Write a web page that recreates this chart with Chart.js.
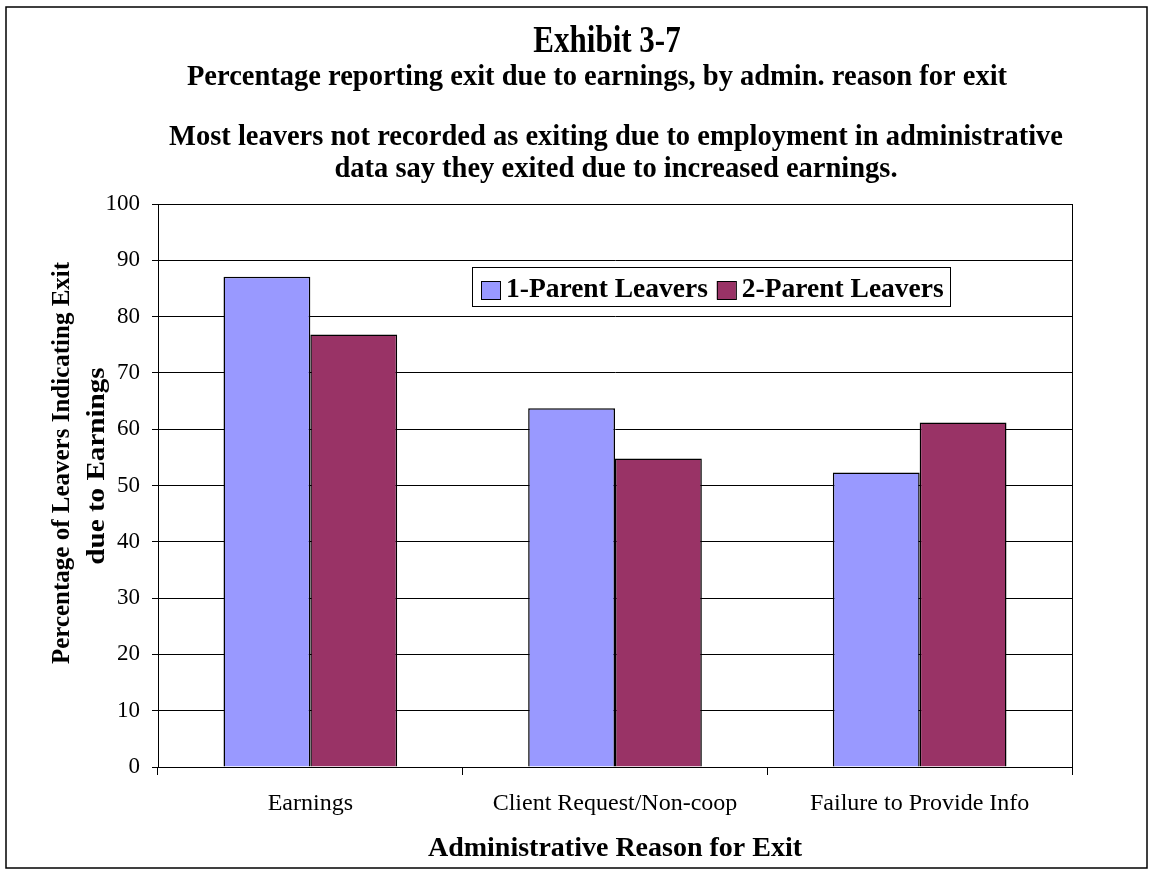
<!DOCTYPE html>
<html><head><meta charset="utf-8">
<script src="https://cdn.jsdelivr.net/npm/chart.js@4"></script>
<style>html,body{margin:0;padding:0;background:#fff}#wrap{width:1153px;height:871px;position:relative}</style>
</head><body><div id="wrap"><canvas id="c" width="1153" height="871"></canvas></div>
<script>
const categories = ['Earnings', 'Client Request/Non-coop', 'Failure to Provide Info'];
const oneParent = [87.1, 63.7, 52.3];
const twoParent = [76.8, 54.8, 61.2];
const seriesNames = ['1-Parent Leavers', '2-Parent Leavers'];
const titleLines = ['Exhibit 3-7', 'Percentage reporting exit due to earnings, by admin. reason for exit', 'Most leavers not recorded as exiting due to employment in administrative', 'data say they exited due to increased earnings.'];
const yTitle = ['Percentage of Leavers Indicating Exit', 'due to Earnings'];
const xTitle = 'Administrative Reason for Exit';

const FONT = "'Liberation Serif', 'Times New Roman', serif";

const framePlugin = {
  id: 'frame',
  beforeDraw(chart) {
    const ctx = chart.ctx;
    ctx.save();
    ctx.fillStyle = '#fff';
    ctx.fillRect(0, 0, chart.width, chart.height);
    ctx.strokeStyle = '#000';
    ctx.lineWidth = 1.5;
    ctx.strokeRect(6, 7, 1141, 861);
    // titles
    ctx.fillStyle = '#000';
    ctx.textAlign = 'center';
    ctx.textBaseline = 'alphabetic';
    ctx.save();
    ctx.translate(607, 52);
    ctx.scale(1, 1.2);
    ctx.font = 'bold 31px ' + FONT;
    ctx.fillText(titleLines[0], 0, 0);
    ctx.restore();
    ctx.font = 'bold 28.5px ' + FONT;
    ctx.fillText(titleLines[1], 597, 85);
    ctx.fillText(titleLines[2], 616, 145);
    ctx.fillText(titleLines[3], 616, 177);
    // y axis title (two rotated lines)
    ctx.textBaseline = 'middle';
    ctx.save();
    ctx.font = 'bold 25px ' + FONT;
    ctx.translate(63, 463);
    ctx.rotate(-Math.PI / 2);
    ctx.fillText(yTitle[0], 0, 0);
    ctx.restore();
    ctx.save();
    ctx.font = 'bold 26px ' + FONT;
    ctx.translate(97, 466);
    ctx.rotate(-Math.PI / 2);
    ctx.scale(1.12, 1);
    ctx.fillText(yTitle[1], 0, 0);
    ctx.restore();
    ctx.restore();
  },
  afterDatasetsDraw(chart) {
    const ctx = chart.ctx, a = chart.chartArea;
    ctx.save();
    ctx.strokeStyle = '#000';
    ctx.lineWidth = 1;
    ctx.strokeRect(Math.round(a.left) + 0.5, Math.round(a.top) + 0.5, Math.round(a.right - a.left), Math.round(a.bottom - a.top));
    // legend inside plot
    const x0 = 472, y0 = 267, w = 478, h = 39;
    ctx.fillStyle = '#fff';
    ctx.fillRect(x0, y0, w, h);
    ctx.strokeRect(x0 + 0.5, y0 + 0.5, w, h);
    ctx.font = 'bold 27.5px ' + FONT;
    ctx.textBaseline = 'alphabetic';
    ctx.textAlign = 'left';
    let x = x0 + 9;
    chart.data.datasets.forEach(ds => {
      ctx.fillStyle = ds.backgroundColor;
      ctx.fillRect(x, y0 + 14, 19, 18);
      ctx.strokeStyle = '#000';
      ctx.strokeRect(x + 0.5, y0 + 14.5, 19, 18);
      ctx.fillStyle = '#000';
      ctx.fillText(ds.label, x + 25, y0 + 30);
      x += 25 + ctx.measureText(ds.label).width + 9;
    });
    ctx.restore();
  }
};

new Chart(document.getElementById('c'), {
  type: 'bar',
  data: {
    labels: categories,
    datasets: [
      { label: seriesNames[0], data: oneParent, backgroundColor: '#9999FF', borderColor: '#000', borderWidth: 1.5 },
      { label: seriesNames[1], data: twoParent, backgroundColor: '#993366', borderColor: '#000', borderWidth: 1.5 }
    ]
  },
  options: {
    responsive: false,
    animation: false,
    devicePixelRatio: 1,
    layout: { padding: { left: 8, top: 204, right: 81, bottom: 0 } },
    plugins: { legend: { display: false }, title: { display: false }, tooltip: { enabled: false } },
    datasets: { bar: { categoryPercentage: 0.57, barPercentage: 1.0 } },
    scales: {
      x: {
        grid: { offset: true, drawOnChartArea: false, color: '#000', tickLength: 8 },
        border: { color: '#000' },
        ticks: { color: '#000', font: { family: FONT, size: 24 }, padding: 14 },
        title: { display: true, text: xTitle, color: '#000', font: { family: FONT, size: 28, weight: 'bold' }, padding: { top: 0, bottom: 5 } },
        afterFit(s) { s.height = 104; }
      },
      y: {
        min: 0, max: 100,
        ticks: { stepSize: 10, color: '#000', font: { family: FONT, size: 23 }, padding: 12 },
        grid: { color: '#000', tickLength: 6 },
        border: { color: '#000' },
        title: { display: false },
        afterFit(s) { s.width = 150; }
      }
    }
  },
  plugins: [framePlugin]
});
</script>
</body></html>
